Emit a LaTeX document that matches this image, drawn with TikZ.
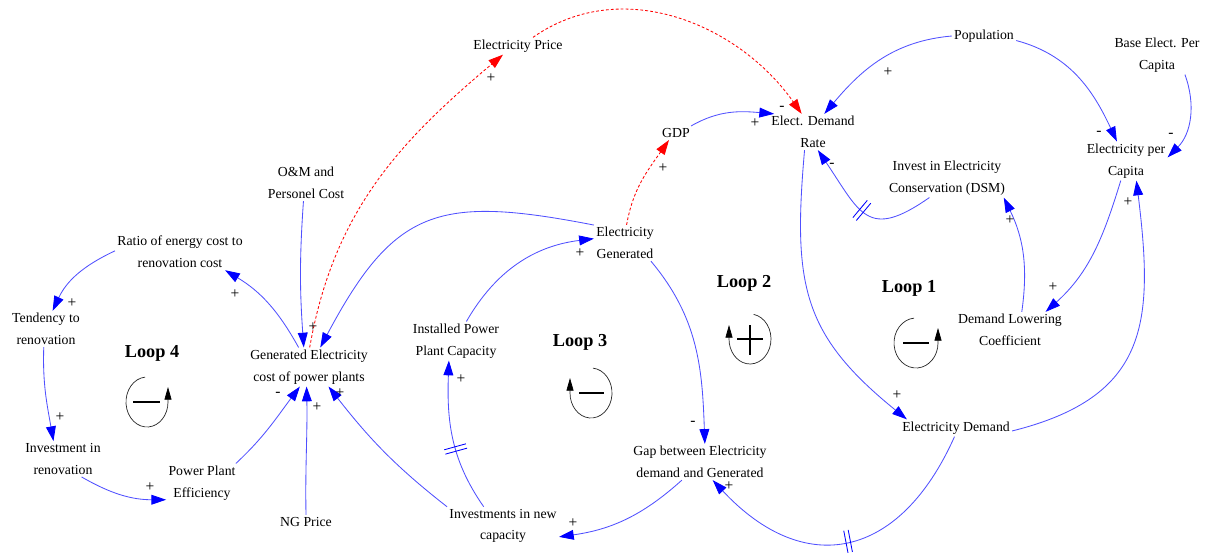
\documentclass[tikz,border=0pt]{standalone}
\usepackage{fontspec}
\setmainfont{Liberation Serif}
\usetikzlibrary{arrows.meta,decorations.markings}
\definecolor{linkblue}{RGB}{80,80,255}

\begin{document}
\begin{tikzpicture}
  [x=0.025cm,y=0.025cm,
   var/.style={align=center,inner sep=1.5pt,font=\fontsize{9.8}{15.5}\selectfont},
   sign/.style={inner sep=0pt,font=\fontsize{11}{12}\selectfont},
   looplabel/.style={inner sep=0pt,font=\fontsize{13}{15}\selectfont\bfseries},
   link/.style={draw=linkblue,line width=0.6pt,
                -{Triangle[length=10.5pt,width=7pt,color=blue]}},
   pricelink/.style={draw=red,line width=0.6pt,dash pattern=on 2pt off 1.5pt,
                -{Triangle[length=10.5pt,width=7pt,color=red]}},
   delay/.style={postaction={decorate,decoration={markings,
       mark=at position #1 with {\draw[blue,-,solid,line width=0.6pt]
         (-1.6pt,-8pt) -- (-1.6pt,8pt) (1.6pt,-8pt) -- (1.6pt,8pt);}}}},
   loopcirc/.style={draw=black!85,line width=0.5pt,
                -{Triangle[length=9pt,width=5pt,black]}},
   loopsign/.style={line width=1.8pt}]
  \useasboundingbox (0,0) rectangle (1208,-553);

  \node[var] (price) at (518,-46)  {Electricity Price};
  \node[var] (pop)   at (984,-36)  {Population};
  \node[var] (base)  at (1157,-55) {Base Elect. Per\\Capita};
  \node[var] (gdp)   at (676,-133) {GDP};
  \node[var] (edr)   at (813,-132) {Elect. Demand\\Rate};
  \node[var] (epc)   at (1126,-161) {Electricity per\\Capita};
  \node[var] (om)    at (306,-183) {O\&M and\\Personel Cost};
  \node[var] (dsm)   at (947,-178) {Invest in Electricity\\Conservation (DSM)};
  \node[var] (ratio) at (180,-252) {Ratio of energy cost to\\renovation cost};
  \node[var] (egen)  at (625,-243) {Electricity\\Generated};
  \node[var] (tend)  at (46,-329)  {Tendency to\\renovation};
  \node[var] (dlc)   at (1010,-330) {Demand Lowering\\Coefficient};
  \node[var] (ippc)  at (456,-341) {Installed Power\\Plant Capacity};
  \node[var] (cost)  at (309,-367) {Generated Electricity\\cost of power plants};
  \node[var] (invr)  at (63,-459)  {Investment in\\renovation};
  \node[var] (ed)    at (956,-428) {Electricity Demand};
  \node[var] (gap)   at (700,-462) {Gap between Electricity\\demand and Generated};
  \node[var] (ppe)   at (202,-483) {Power Plant\\Efficiency};
  \node[var] (ng)    at (306,-522) {NG Price};
  \node[var] (inv)   at (503,-526) {Investments in new\\capacity};

  \draw[pricelink] (cost.88) to[out=80,in=220] (price.210);
  \draw[pricelink] (price.30) to[out=35,in=125] (edr.122);
  \draw[pricelink] (egen.85) to[out=80,in=235] (gdp.225);
  \draw[link] (gdp.25) to[out=30,in=175] (edr.155);
  \draw[link] (pop.west) to[out=185,in=50] (edr.58);
  \draw[link] (pop.-8) to[out=-15,in=115] (epc.115);
  \draw[link] (base.-35) to[out=-70,in=45] (epc.5);
  \draw[link,delay=0.5] (dsm.228) to[out=215,in=-56,looseness=1.6] (edr.-75);
  \draw[link] (edr.245) to[out=265,in=141,looseness=1.2] (ed.170);
  \draw[link] (epc.255) to[out=253,in=42] (dlc.27);
  \draw[link] (dlc.57) to[out=82,in=-64] (dsm.-19);
  \draw[link] (ed.-3) to[out=14,in=-83,looseness=1.3] (epc.-62);
  \draw[link,delay=0.5] (ed.260) to[out=246,in=-47,looseness=1.4] (gap.-55);
  \draw[link] (egen.-35) to[out=-50,in=92] (gap.75);
  \draw[link] (gap.225) to[out=222,in=8] (inv.-11);
  \draw[link,delay=0.42] (inv.135) to[out=125,in=268] (ippc.250);
  \draw[link] (ippc.62) to[out=60,in=187] (egen.172);
  \draw[link] (egen.150) to[out=169,in=62,looseness=1.35] (cost.60);
  \draw[link] (om.262) to[out=266,in=94] (cost.105);
  \draw[link] (ng.north) to[out=91,in=-89] (cost.263);
  \draw[link] (inv.161) to[out=142,in=-52] (cost.-45);
  \draw[link] (ppe.30) to[out=43,in=233] (cost.245);
  \draw[link] (cost.118) to[out=119,in=-31] (ratio.-22);
  \draw[link] (ratio.179) to[out=205,in=65] (tend.70);
  \draw[link] (tend.263) to[out=268,in=100] (invr.118);
  \draw[link] (invr.-44) to[out=-30,in=180] (ppe.205);

  \node[sign] (s1)  at (491,-78)  {+};
  \node[sign] (s2)  at (782,-108) {-};
  \node[sign] (s3)  at (755,-123) {+};
  \node[sign] (s4)  at (663,-168) {+};
  \node[sign] (s5)  at (888,-72)  {+};
  \node[sign] (s6)  at (1099,-133) {-};
  \node[sign] (s7)  at (1171,-135) {-};
  \node[sign] (s8)  at (832,-165) {-};
  \node[sign] (s9)  at (1010,-220) {+};
  \node[sign] (s10) at (1128,-202) {+};
  \node[sign] (s11) at (1053,-287) {+};
  \node[sign] (s12) at (897,-395) {+};
  \node[sign] (s13) at (693,-423) {-};
  \node[sign] (s14) at (729,-486) {+};
  \node[sign] (s15) at (573,-523) {+};
  \node[sign] (s16) at (461,-379) {+};
  \node[sign] (s17) at (580,-253) {+};
  \node[sign] (s18) at (313,-327) {+};
  \node[sign] (s19) at (278,-394) {-};
  \node[sign] (s20) at (317,-407) {+};
  \node[sign] (s21) at (340,-393) {+};
  \node[sign] (s22) at (235,-294) {+};
  \node[sign] (s23) at (72,-303)  {+};
  \node[sign] (s24) at (60,-417)  {+};
  \node[sign] (s25) at (150,-487) {+};

  \node[looplabel] (loop1) at (909,-288) {Loop 1};
  \node[looplabel] (loop2) at (744,-283) {Loop 2};
  \node[looplabel] (loop3) at (580,-342) {Loop 3};
  \node[looplabel] (loop4) at (152,-353) {Loop 4};

  \coordinate (c1) at (916,-343);
  \coordinate (c2) at (750,-339);
  \coordinate (c3) at (591,-393);
  \coordinate (c4) at (147,-402);
  \draw[loopcirc] (c1) ++(95:22 and 25) arc[start angle=95,end angle=360,x radius=22,y radius=25] -- ++(0,15);
  \draw[loopcirc] (c2) ++(80:21 and 25) arc[start angle=80,end angle=-180,x radius=21,y radius=25] -- ++(0,14);
  \draw[loopcirc] (c3) ++(85:21 and 25) arc[start angle=85,end angle=-180,x radius=21,y radius=25] -- ++(0,15);
  \draw[loopcirc] (c4) ++(95:21 and 25) arc[start angle=95,end angle=360,x radius=21,y radius=25] -- ++(0,15);
  \draw[loopsign] (c1) ++(-13,0) -- ++(26,0);
  \draw[loopsign,line width=1.4pt] (c2) ++(-13,0) -- ++(26,0) (c2) ++(0,14) -- ++(0,-30);
  \draw[loopsign] (c3) ++(-12,0) -- ++(25,0);
  \draw[loopsign] (c4) ++(-14,0) -- ++(27,0);
\end{tikzpicture}
\end{document}
